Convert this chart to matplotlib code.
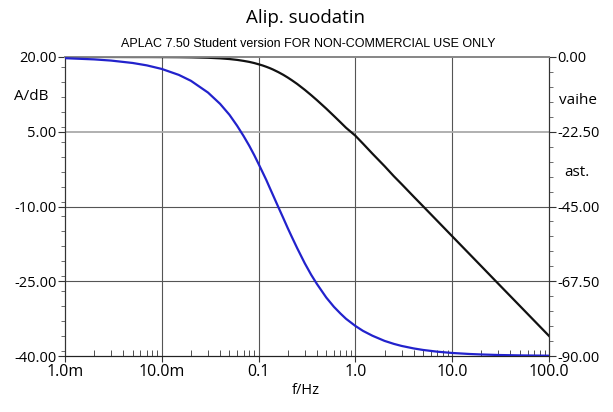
"""Alip. suodatin - APLAC style Bode plot (amplitude + phase)."""
import numpy as np
import matplotlib
matplotlib.use('Agg')
import matplotlib.pyplot as plt
from matplotlib.ticker import FixedLocator, FixedFormatter, LogLocator, NullFormatter, MultipleLocator

plt.rcParams['font.family'] = ['Open Sans', 'DejaVu Sans']

# frequency points (Hz)
freq = [0.001, 0.002, 0.003, 0.005, 0.007, 0.01, 0.015, 0.02, 0.03, 0.04,
        0.05, 0.06, 0.07, 0.08, 0.09, 0.1, 0.11, 0.12, 0.13, 0.14, 0.16,
        0.18, 0.2, 0.22, 0.25, 0.3, 0.35, 0.4, 0.5, 0.6, 0.7, 0.8, 1.0,
        1.2, 1.5, 2.0, 2.5, 3.0, 4.0, 5.0, 7.0, 10.0, 15.0, 20.0, 30.0,
        50.0, 100.0]
# amplitude, dB (black)
amp_db = [20.0, 20.0, 20.0, 19.99, 19.99, 19.98, 19.96, 19.93, 19.85, 19.73,
          19.59, 19.42, 19.22, 19.02, 18.79, 18.54, 18.3, 18.04, 17.78, 17.51, 16.96,
          16.42, 15.88, 15.35, 14.6, 13.41, 12.33, 11.35, 9.64, 8.17, 6.91, 5.8, 4.2,
          2.6, 0.6, -1.9, -3.94, -5.5, -8.02, -9.95, -12.87, -15.97, -19.49, -21.99, -25.52,
          -29.95, -35.97]
# phase, degrees (blue)
phase = [-0.36, -0.72, -1.08, -1.8, -2.52, -3.6, -5.39, -7.17, -10.7, -14.1,
         -17.4, -20.7, -23.8, -26.7, -29.5, -32.2, -34.7, -37.0, -39.3, -41.4, -45.2,
         -48.5, -51.5, -54.1, -57.5, -62.1, -65.6, -68.3, -72.4, -75.2, -77.2, -78.8, -80.96,
         -82.45, -83.9, -85.45, -86.36, -86.97, -87.72, -88.18, -88.7, -89.09, -89.39, -89.54, -89.7,
         -89.82, -89.91]

xticks = [0.001, 0.01, 0.1, 1.0, 10.0, 100.0]
xtick_labels = ['1.0m', '10.0m', '0.1', '1.0', '10.0', '100.0']
amp_ticks = [-40, -25, -10, 5, 20]
phase_ticks = [-90, -67.5, -45, -22.5, 0]

fig = plt.figure(figsize=(6.13, 4.12), dpi=100)
ax = fig.add_axes([65 / 613, 1 - 356 / 412, 484 / 613, 299 / 412])
ax2 = ax.twinx()

ax.set_xscale('log')
ax.set_xlim(0.001, 100)
ax.set_ylim(-40, 20)
ax2.set_ylim(-90, 0)

# grid
for xv in xticks[1:-1]:
    ax.axvline(xv, color='#555555', lw=0.8, zorder=1)
for yv in amp_ticks[1:-1]:
    ax.axhline(yv, color='#aaaaaa' if yv == 5 else '#555555',
               lw=1.3 if yv == 5 else 0.8, zorder=1)

ax.plot(freq, amp_db, color='#111111', lw=1.6, zorder=3)
ax2.plot(freq, phase, color='#2222cc', lw=1.6, zorder=3)

ax.xaxis.set_major_locator(FixedLocator(xticks))
ax.xaxis.set_major_formatter(FixedFormatter(xtick_labels))
ax.xaxis.set_minor_locator(LogLocator(base=10, subs=np.arange(2, 10)))
ax.xaxis.set_minor_formatter(NullFormatter())
ax.tick_params(axis='x', which='major', direction='out', length=4,
               labelsize=11.5, pad=2, color='#333333')
ax.tick_params(axis='x', which='minor', direction='in', length=4, color='#333333')

ax.yaxis.set_major_locator(FixedLocator(amp_ticks))
ax.yaxis.set_major_formatter(FixedFormatter([f'{v:.2f}' for v in amp_ticks]))
ax.yaxis.set_minor_locator(MultipleLocator(3))
ax.tick_params(axis='y', which='major', direction='out', length=5,
               labelsize=10.5, pad=1, color='#333333')
ax.tick_params(axis='y', which='minor', direction='out', length=3, color='#555555')

ax2.yaxis.set_major_locator(FixedLocator(phase_ticks))
ax2.yaxis.set_major_formatter(FixedFormatter([f'{v:.2f}' for v in phase_ticks]))
ax2.yaxis.set_minor_locator(MultipleLocator(4.5))
ax2.tick_params(axis='y', which='major', direction='out', length=5,
                labelsize=10.5, pad=1, color='#333333')
ax2.tick_params(axis='y', which='minor', direction='out', length=3, color='#555555')

for a in (ax, ax2):
    a.spines['top'].set_color('#888888')
    a.spines['top'].set_linewidth(1.3)
    a.spines['left'].set_color('#333333')
    a.spines['right'].set_color('#333333')
    a.spines['bottom'].set_color('#222222')

fig.text(306 / 613, 1 - 18 / 412, 'Alip. suodatin', ha='center', va='center',
         fontsize=13.5)
fig.text(308 / 613, 1 - 44 / 412,
         'APLAC 7.50 Student version FOR NON-COMMERCIAL USE ONLY',
         ha='center', va='center', fontsize=9,
         family=['Liberation Sans', 'DejaVu Sans'])
fig.text(31 / 613, 1 - 97 / 412, 'A/dB', ha='center', va='center', fontsize=11)
fig.text(578 / 613, 1 - 101 / 412, 'vaihe', ha='center', va='center', fontsize=11)
fig.text(577 / 613, 1 - 172 / 412, 'ast.', ha='center', va='center', fontsize=11)
fig.text(306 / 613, 1 - 390 / 412, 'f/Hz', ha='center', va='center', fontsize=10.5)

fig.savefig('out.png', dpi=100)
